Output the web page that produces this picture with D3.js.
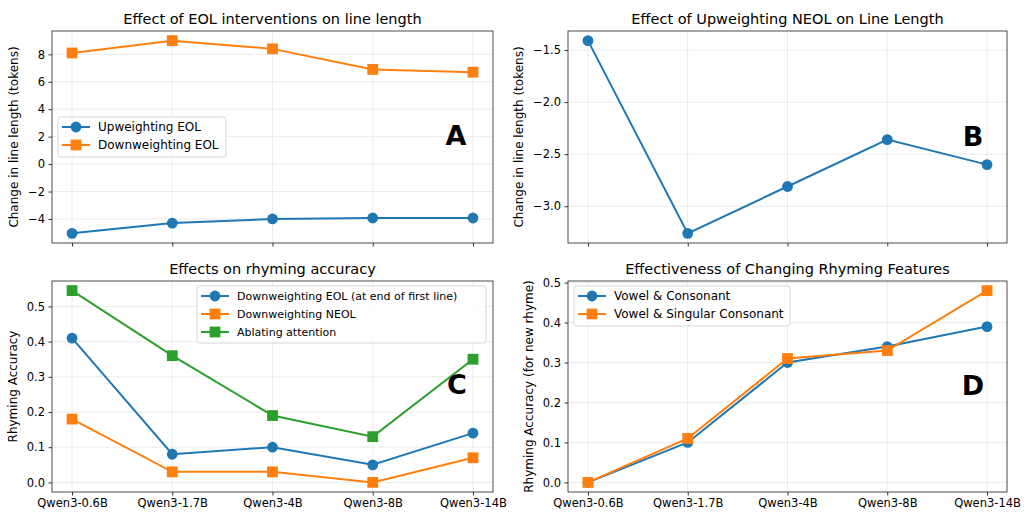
<!DOCTYPE html>
<html>
<head>
<meta charset="utf-8">
<script src="https://cdn.jsdelivr.net/npm/d3@7"></script>
<style>
  body { margin: 0; background: #fff; }
  svg text { font-family: "DejaVu Sans", sans-serif; fill: #000; }
</style>
</head>
<body>
<div id="chart"></div>
<script>
// data
var models = ["Qwen3-0.6B", "Qwen3-1.7B", "Qwen3-4B", "Qwen3-8B", "Qwen3-14B"];

var upEOL = [-5.05, -4.3, -4.0, -3.93, -3.93];
var downEOL = [8.1, 9.0, 8.4, 6.9, 6.7];

var upNEOL = [-1.41, -3.26, -2.81, -2.36, -2.60];

var downEOLFirst = [0.41, 0.08, 0.10, 0.05, 0.14];
var downNEOL = [0.18, 0.03, 0.03, 0.0, 0.07];
var ablateAttn = [0.545, 0.36, 0.19, 0.13, 0.35];

var vowelCons = [0.0, 0.10, 0.30, 0.34, 0.39];
var vowelSingCons = [0.0, 0.11, 0.31, 0.33, 0.48];

var ticksA = [-4, -2, 0, 2, 4, 6, 8];
var ticksB = [-3.0, -2.5, -2.0, -1.5];
var ticksC = [0.0, 0.1, 0.2, 0.3, 0.4, 0.5];
var ticksD = [0.0, 0.1, 0.2, 0.3, 0.4, 0.5];

var blue = "#1f77b4", orange = "#ff7f0e", green = "#2ca02c";

var panels = [
  { title: "Effect of EOL interventions on line length", ylab: "Change in line length (tokens)",
    box: [52, 31, 493, 243], ticks: ticksA, fmt: d3.format("d"), letter: "A", lx: 456, ly: 145, xlabels: false,
    series: [{ name: "Upweighting EOL", v: upEOL, c: blue, m: "o" },
             { name: "Downweighting EOL", v: downEOL, c: orange, m: "s" }],
    legend: [58, 117, 226, 157], lfs: 12, ylx: 18 },
  { title: "Effect of Upweighting NEOL on Line Length", ylab: "Change in line length (tokens)",
    box: [568, 31, 1007, 243], ticks: ticksB, fmt: d3.format(".1f"), letter: "B", lx: 973, ly: 146, xlabels: false,
    series: [{ name: "Upweighting NEOL", v: upNEOL, c: blue, m: "o" }],
    legend: null, ylx: 523 },
  { title: "Effects on rhyming accuracy", ylab: "Rhyming Accuracy",
    box: [52, 281, 493, 492], ticks: ticksC, fmt: d3.format(".1f"), letter: "C", lx: 457, ly: 394, xlabels: true,
    series: [{ name: "Downweighting EOL (at end of first line)", v: downEOLFirst, c: blue, m: "o" },
             { name: "Downweighting NEOL", v: downNEOL, c: orange, m: "s" },
             { name: "Ablating attention", v: ablateAttn, c: green, m: "s" }],
    legend: [197, 286, 486, 343], lfs: 11, ylx: 17 },
  { title: "Effectiveness of Changing Rhyming Features", ylab: "Rhyming Accuracy (for new rhyme)",
    box: [568, 281, 1007, 492], ticks: ticksD, fmt: d3.format(".1f"), letter: "D", lx: 973, ly: 395, xlabels: true,
    series: [{ name: "Vowel & Consonant", v: vowelCons, c: blue, m: "o" },
             { name: "Vowel & Singular Consonant", v: vowelSingCons, c: orange, m: "s" }],
    legend: [574, 286, 790, 326], lfs: 12, ylx: 533 }
];

var svg = d3.select("#chart").append("svg").attr("width", 1024).attr("height", 512);

function marker(g, type, x, y, c) {
  if (type === "o") {
    g.append("circle").attr("cx", x).attr("cy", y).attr("r", 5.4).attr("fill", c);
  } else {
    g.append("rect").attr("x", x - 5.4).attr("y", y - 5.4).attr("width", 10.8).attr("height", 10.8).attr("fill", c);
  }
}

panels.forEach(function(p) {
  var x0 = p.box[0], y0 = p.box[1], x1 = p.box[2], y1 = p.box[3];
  var all = [];
  p.series.forEach(function(s) { all = all.concat(s.v); });
  var lo = d3.min(all), hi = d3.max(all), pad = (hi - lo) * 0.05;
  var y = d3.scaleLinear().domain([lo - pad, hi + pad]).range([y1, y0]);
  var x = d3.scalePoint().domain(models).range([x0, x1]).padding(0.2);

  var g = svg.append("g");

  // grid
  g.selectAll(".gx").data(models).enter().append("line")
    .attr("x1", function(d) { return x(d); }).attr("x2", function(d) { return x(d); })
    .attr("y1", y0).attr("y2", y1).attr("stroke", "#b0b0b0").attr("stroke-opacity", 0.3).attr("stroke-width", 0.8);
  g.selectAll(".gy").data(p.ticks).enter().append("line")
    .attr("x1", x0).attr("x2", x1)
    .attr("y1", function(d) { return y(d); }).attr("y2", function(d) { return y(d); })
    .attr("stroke", "#b0b0b0").attr("stroke-opacity", 0.3).attr("stroke-width", 0.8);

  // axes
  var ya = g.append("g").attr("transform", "translate(" + x0 + ",0)")
    .call(d3.axisLeft(y).tickValues(p.ticks).tickFormat(p.fmt).tickSize(3.5).tickPadding(3.5));
  var xa = g.append("g").attr("transform", "translate(0," + y1 + ")")
    .call(d3.axisBottom(x).tickSize(3.5).tickPadding(3.5).tickFormat(p.xlabels ? null : function() { return ""; }));
  [ya, xa].forEach(function(a) {
    a.select(".domain").remove();
    a.selectAll(".tick line").attr("stroke", "#000").attr("stroke-width", 0.8);
    a.selectAll(".tick text").attr("font-size", "11.5px").attr("font-family", "DejaVu Sans").attr("fill", "#000");
  });

  g.append("rect").attr("x", x0).attr("y", y0).attr("width", x1 - x0).attr("height", y1 - y0)
    .attr("fill", "none").attr("stroke", "#222").attr("stroke-width", 0.8);

  // series
  var line = d3.line().x(function(d, i) { return x(models[i]); }).y(function(d) { return y(d); });
  p.series.forEach(function(s) {
    g.append("path").attr("d", line(s.v)).attr("fill", "none").attr("stroke", s.c).attr("stroke-width", 2);
    s.v.forEach(function(v, i) { marker(g, s.m, x(models[i]), y(v), s.c); });
  });

  // title, y label, letter
  g.append("text").attr("x", (x0 + x1) / 2).attr("y", y0 - 7).attr("text-anchor", "middle")
    .attr("font-size", "14.5px").text(p.title);
  g.append("text").attr("transform", "translate(" + p.ylx + "," + ((y0 + y1) / 2) + ") rotate(-90)")
    .attr("text-anchor", "middle").attr("font-size", "12px").text(p.ylab);
  g.append("text").attr("x", p.lx).attr("y", p.ly).attr("text-anchor", "middle")
    .attr("font-size", "27px").attr("font-weight", "bold").text(p.letter);

  // legend
  if (p.legend) {
    var L = p.legend;
    g.append("rect").attr("x", L[0]).attr("y", L[1]).attr("width", L[2] - L[0]).attr("height", L[3] - L[1])
      .attr("rx", 2.5).attr("fill", "#fff").attr("fill-opacity", 0.8).attr("stroke", "#ccc").attr("stroke-width", 0.8);
    p.series.forEach(function(s, i) {
      var cy = L[1] + 10 + i * 18;
      g.append("line").attr("x1", L[0] + 4).attr("x2", L[0] + 32).attr("y1", cy).attr("y2", cy)
        .attr("stroke", s.c).attr("stroke-width", 2);
      marker(g, s.m, L[0] + 18, cy, s.c);
      g.append("text").attr("x", L[0] + 40).attr("y", cy + 4.2).attr("font-size", p.lfs + "px").text(s.name);
    });
  }
});
</script>
</body>
</html>
